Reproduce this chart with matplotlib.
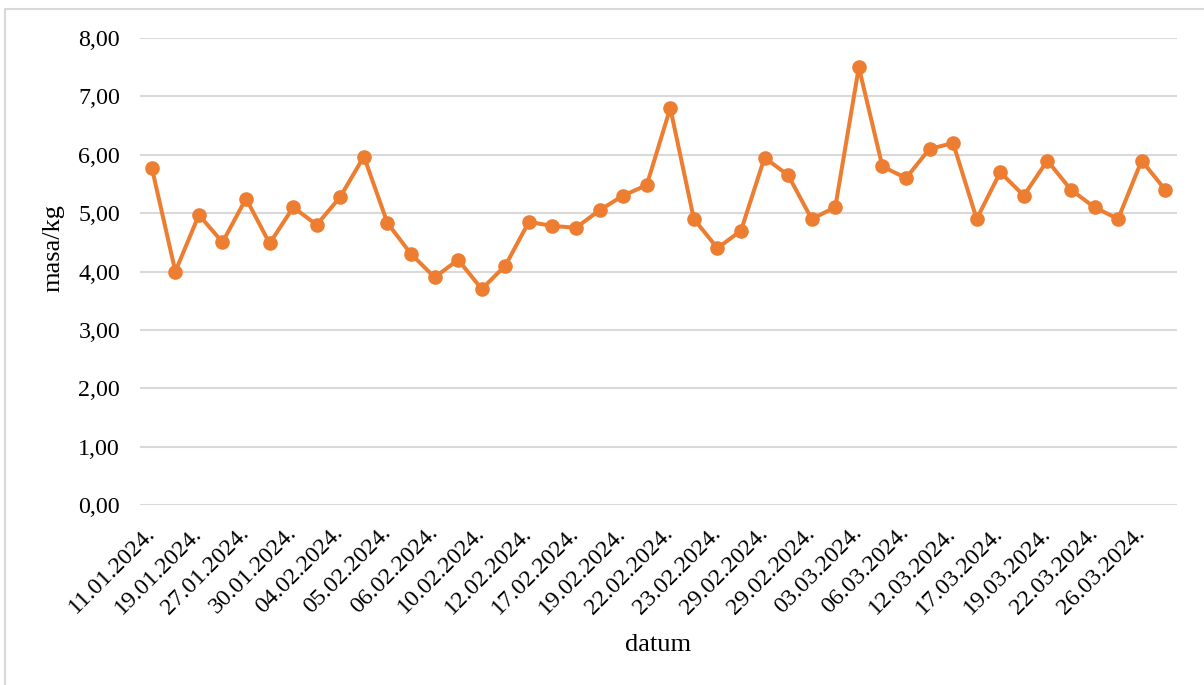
import matplotlib
matplotlib.use("Agg")
import matplotlib.pyplot as plt
from matplotlib.ticker import FuncFormatter, MultipleLocator
from matplotlib.patches import Rectangle

dates = ["11.01.2024.", "", "19.01.2024.", "", "27.01.2024.", "", "30.01.2024.", "",
         "04.02.2024.", "", "05.02.2024.", "", "06.02.2024.", "", "10.02.2024.", "",
         "12.02.2024.", "", "17.02.2024.", "", "19.02.2024.", "", "22.02.2024.", "",
         "23.02.2024.", "", "29.02.2024.", "", "29.02.2024.", "", "03.03.2024.", "",
         "06.03.2024.", "", "12.03.2024.", "", "17.03.2024.", "", "19.03.2024.", "",
         "22.03.2024.", "", "26.03.2024.", ""]
masa = [5.78, 4.00, 4.97, 4.50, 5.25, 4.48, 5.10, 4.80, 5.28, 5.97,
        4.83, 4.30, 3.90, 4.20, 3.70, 4.10, 4.85, 4.78, 4.75, 5.05,
        5.30, 5.48, 6.80, 4.90, 4.40, 4.70, 5.95, 5.65, 4.90, 5.10,
        7.50, 5.80, 5.60, 6.10, 6.20, 4.90, 5.70, 5.30, 5.90, 5.40,
        5.10, 4.90, 5.90, 5.40]

plt.rcParams['font.family'] = ['Liberation Serif', 'DejaVu Serif']

W, H = 1204, 685
fig = plt.figure(figsize=(W / 100, H / 100), dpi=100)
ax = fig.add_axes([140 / W, 1 - 505 / H, (1177 - 140) / W, (505 - 38) / H])

x = list(range(len(masa)))
ax.plot(x, masa, color='#ED7D31', lw=2.9, marker='o', markersize=9.5,
        solid_joinstyle='round', zorder=3)

ax.set_xlim(-0.5, len(masa) - 0.5)
ax.set_ylim(0, 8)
ax.yaxis.set_major_locator(MultipleLocator(1))
ax.yaxis.set_major_formatter(FuncFormatter(lambda v, p: f"{v:.2f}".replace('.', ',')))
ax.grid(axis='y', color='#d9d9d9', lw=1.5)
ax.set_axisbelow(True)
for s in ax.spines.values():
    s.set_visible(False)

tick_pos = [i for i, d in enumerate(dates) if d]
ax.set_xticks(tick_pos)
ax.set_xticklabels([dates[i] for i in tick_pos], rotation=45, ha='right',
                   va='center', rotation_mode='anchor', fontsize=17.3)
ax.tick_params(axis='x', length=0, pad=18)
ax.tick_params(axis='y', length=0, pad=14.4, labelsize=17.3)

fig.text(53 / W, 1 - 248 / H, 'masa/kg', rotation=90, ha='center', va='center', fontsize=19)
fig.text(658 / W, 1 - 645 / H, 'datum', ha='center', va='center', fontsize=19)

fig.patches.append(Rectangle((5 / W, -0.05), 1.2, 1 - 8.5 / H + 0.05, transform=fig.transFigure,
                             fill=False, edgecolor='#d9d9d9', lw=1.5))

fig.savefig('out.png', dpi=100)
